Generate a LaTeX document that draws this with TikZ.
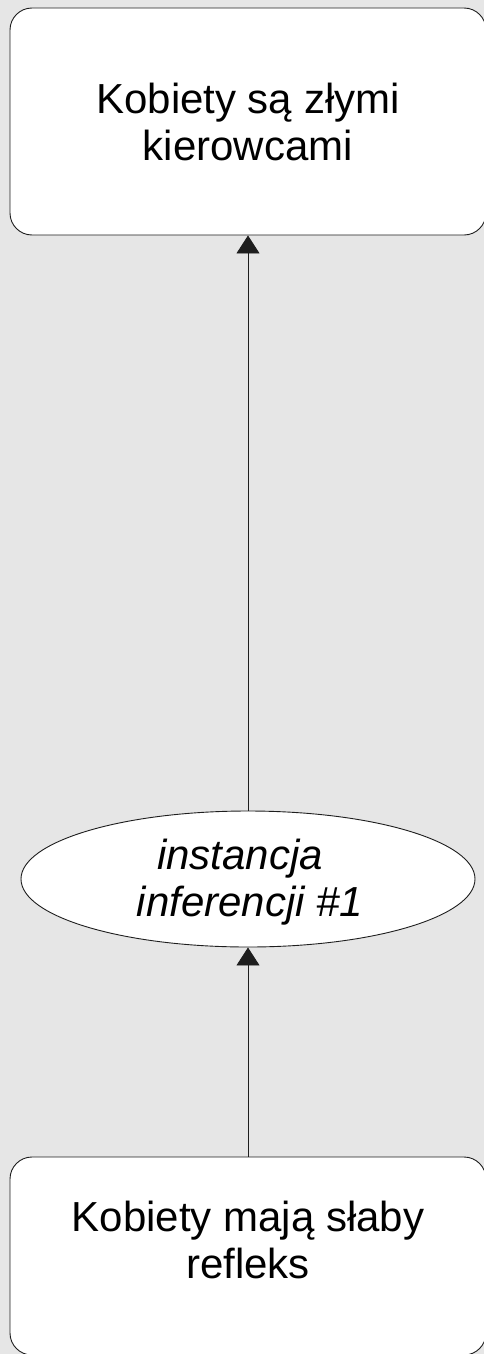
\documentclass[tikz,border=0pt]{standalone}
\usepackage{fontspec}
\setmainfont{Liberation Sans}
\usetikzlibrary{shapes.geometric,arrows.meta}
\definecolor{bggray}{RGB}{230,230,230}
\definecolor{edgegray}{RGB}{30,30,30}
\tikzset{
  boxshape/.style={draw=edgegray, fill=white, line width=0.9pt, rounded corners=22pt,
    minimum width=476pt, minimum height=227pt, inner sep=0pt, anchor=center},
  ovalshape/.style={ellipse, draw=edgegray, fill=white, line width=0.9pt,
    minimum width=454pt, minimum height=136pt, inner sep=0pt},
  lbl/.style={font=\fontsize{42pt}{47pt}\selectfont, align=center, inner sep=0pt, text=black},
  conn/.style={draw=edgegray, line width=0.9pt, -{Triangle[length=18pt,width=23pt]}}
}
\begin{document}
\begin{tikzpicture}[x=1pt,y=-1pt]
\useasboundingbox[fill=bggray] (0,0) rectangle (484,1354);
\node[boxshape] (top) at (248,121.5) {};
\node[lbl] (toptext) at (248,121.5) {Kobiety są złymi\\kierowcami};
\node[ovalshape] (inf) at (248,879) {};
\node[lbl, font=\fontsize{42pt}{47pt}\selectfont\itshape] (inftext) at (248,882.5) {instancja\hspace*{16pt}\\\hspace*{4pt}inferencji \#1};
\node[boxshape, minimum height=198pt] (bot) at (248,1256) {};
\node[lbl] (bottext) at (248,1240) {Kobiety mają słaby\\refleks};
\draw[conn] (inf.north) -- (top.south);
\draw[conn] (bot.north) -- (inf.south);
\end{tikzpicture}
\end{document}
